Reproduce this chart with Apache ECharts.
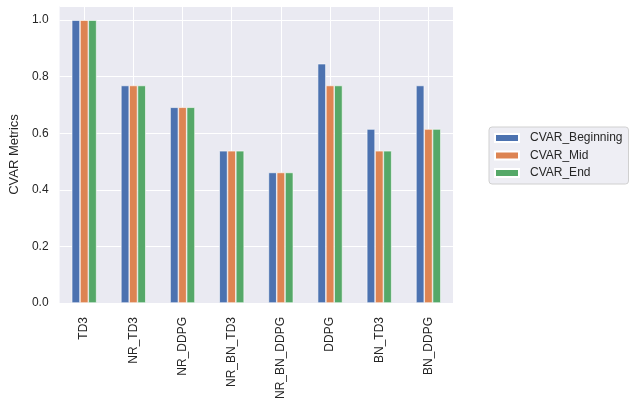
<!DOCTYPE html>
<html>
<head>
<meta charset="utf-8">
<script src="https://cdn.jsdelivr.net/npm/echarts@6/dist/echarts.min.js"></script>
<style>html,body{margin:0;padding:0;background:#fff;}#c{width:636px;height:407px;}</style>
</head>
<body>
<div id="c"></div>
<script>
var categories = ['TD3','NR_TD3','NR_DDPG','NR_BN_TD3','NR_BN_DDPG','DDPG','BN_TD3','BN_DDPG'];
var cvarBeginning = [1.0, 0.769, 0.692, 0.538, 0.4615, 0.846, 0.615, 0.769];
var cvarMid       = [1.0, 0.769, 0.692, 0.538, 0.4615, 0.769, 0.538, 0.615];
var cvarEnd       = [1.0, 0.769, 0.692, 0.538, 0.4615, 0.769, 0.538, 0.615];
var seriesNames = ['CVAR_Beginning','CVAR_Mid','CVAR_End'];
var colors = ['#4C72B0','#DD8452','#55A868'];

var gridCats = [];
for (var i = 0; i < categories.length * 2 + 1; i++) gridCats.push(String(i));

var chart = echarts.init(document.getElementById('c'), null, {renderer:'canvas'});
var font = 'Liberation Sans, Arial, sans-serif';
function mk(name, data, color){
  return {name:name, type:'bar', data:data, barWidth:8.3, barGap:'0%',
    itemStyle:{color:color, borderColor:'#ffffff', borderWidth:0.6}};
}
chart.setOption({
  animation:false,
  textStyle:{fontFamily:font},
  grid:{left:52, right:183, top:6, bottom:104, show:true, backgroundColor:'#EAEAF2', borderWidth:0},
  legend:{
    orient:'vertical', left:489, top:127,
    data:seriesNames,
    icon:'rect', itemWidth:24, itemHeight:8, itemGap:5.5,
    padding:[5,6,5,5],
    backgroundColor:'#EEEEF4', borderColor:'#D0D0D0', borderWidth:1, borderRadius:3,
    textStyle:{fontSize:12, color:'#262626', fontFamily:font, padding:[0,0,0,6]}
  },
  xAxis:[{
    type:'category', data:categories,
    axisLine:{show:false}, axisTick:{show:false}, splitLine:{show:false},
    axisLabel:{rotate:90, fontSize:12, color:'#262626', margin:14, fontFamily:font}
  },{
    type:'category', data:gridCats, boundaryGap:false, show:true, position:'bottom',
    axisLine:{show:false}, axisTick:{show:false}, axisLabel:{show:false},
    splitLine:{show:true, interval:function(idx){return idx % 2 === 1;}, lineStyle:{color:'#ffffff', width:1}}
  }],
  yAxis:{
    type:'value', min:0, max:1.05, interval:0.2,
    name:'CVAR Metrics', nameLocation:'middle', nameGap:37, nameRotate:90,
    nameTextStyle:{fontSize:13, color:'#262626', fontFamily:font},
    axisLine:{show:false}, axisTick:{show:false},
    axisLabel:{fontSize:12, color:'#262626', margin:11, fontFamily:font,
      formatter:function(v){ var r = Math.round(v*5); return Math.abs(v*5 - r) < 1e-6 ? (r/5).toFixed(1) : ''; }},
    splitLine:{show:true, lineStyle:{color:'#ffffff', width:1}}
  },
  series:[mk(seriesNames[0], cvarBeginning, colors[0]), mk(seriesNames[1], cvarMid, colors[1]), mk(seriesNames[2], cvarEnd, colors[2])]
});
</script>
</body>
</html>
